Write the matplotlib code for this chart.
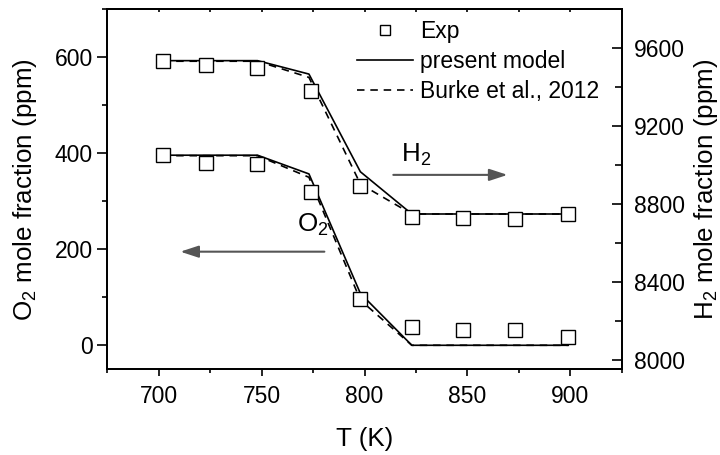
import matplotlib
matplotlib.use("Agg")
import matplotlib.pyplot as plt
from matplotlib.ticker import MultipleLocator

plt.rcParams['font.family'] = ['Liberation Sans', 'DejaVu Sans']
plt.rcParams['mathtext.default'] = 'regular'

# ---- data ----
T_exp = [702, 723, 748, 774, 798, 823, 848, 873, 899]
O2_exp = [396, 380, 377, 320, 97, 38, 31, 32, 17]
H2_exp = [9535, 9515, 9500, 9380, 8890, 8730, 8725, 8720, 8750]

T_model = [702, 723, 748, 773, 798, 823, 848, 873, 899]
O2_present = [396, 396, 396, 357, 108, 0, 0, 0, 0]
O2_burke = [395, 395, 395, 350, 94, 0, 0, 0, 0]
H2_present = [9536, 9536, 9536, 9467, 8965, 8748, 8748, 8748, 8748]
H2_burke = [9533, 9533, 9533, 9450, 8902, 8748, 8748, 8748, 8748]

labels = ['Exp', 'present model', 'Burke et al., 2012']

fig = plt.figure(figsize=(7.2, 4.55), dpi=100)
ax = fig.add_axes([0.149, 0.1884, 0.7145, 0.7912])
ax2 = ax.twinx()

fs_tick = 16.5
fs_lab = 18.7
lw = 1.2
dash = (0, (4.5, 3.5))

# O2 on left axis
ax.plot(T_model, O2_present, color='black', lw=lw, zorder=3)
ax.plot(T_model, O2_burke, color='black', lw=lw, ls=dash, zorder=3)
ax.plot(T_exp, O2_exp, ls='none', marker='s', ms=9.5, mfc='white', mec='black',
        mew=1.0, zorder=4)

# H2 on right axis
ax2.plot(T_exp, H2_exp, ls='none', marker='s', ms=9.5, mfc='white', mec='black',
         mew=1.0, zorder=4, label=labels[0])
ax2.plot(T_model, H2_present, color='black', lw=lw, zorder=3, label=labels[1])
ax2.plot(T_model, H2_burke, color='black', lw=lw, ls=dash, zorder=3, label=labels[2])

ax.set_xlim(675, 925)
ax.set_ylim(-50, 700)
ax2.set_ylim(7950, 9800)

ax.xaxis.set_major_locator(MultipleLocator(50))
ax.xaxis.set_minor_locator(MultipleLocator(25))
ax.yaxis.set_major_locator(MultipleLocator(200))
ax.yaxis.set_minor_locator(MultipleLocator(100))
ax2.yaxis.set_major_locator(MultipleLocator(400))
ax2.yaxis.set_minor_locator(MultipleLocator(200))

for a in (ax, ax2):
    for s in a.spines.values():
        s.set_linewidth(1.3)

ax.tick_params(axis='x', which='major', direction='out', length=5, width=1.2,
               labelsize=fs_tick, pad=6, top=False)
ax.tick_params(axis='x', which='minor', direction='out', length=3, width=1.2, top=False)
ax.tick_params(axis='y', which='major', direction='out', length=7, width=1.2,
               labelsize=fs_tick, pad=3.5, right=False)
ax.tick_params(axis='y', which='minor', direction='out', length=3.6, width=1.2, right=False)
ax2.tick_params(axis='y', which='major', direction='in', length=7.5, width=1.2,
                labelsize=fs_tick, pad=9)
ax2.tick_params(axis='y', which='minor', direction='in', length=5, width=1.2)

# top ticks (short, inward)
sec = ax.secondary_xaxis('top')
sec.xaxis.set_major_locator(MultipleLocator(25))
sec.tick_params(axis='x', which='major', direction='in', length=2.2, width=1.2,
                labeltop=False)
sec.spines['top'].set_linewidth(1.3)

ax.set_xlabel('T (K)', fontsize=fs_lab, labelpad=14)
ax.set_ylabel('O$_2$ mole fraction (ppm)', fontsize=fs_lab, labelpad=11)
ax2.set_ylabel('H$_2$ mole fraction (ppm)', fontsize=fs_lab, labelpad=5)

# annotations
arrow_col = '#555555'
h2_arrow = ((814, 355), (869.5, 355))
o2_arrow = ((780.5, 195), (710.5, 195))
for (x0, y0), (x1, y1) in (h2_arrow, o2_arrow):
    ax.annotate('', xy=(x1, y1), xytext=(x0, y0),
                arrowprops=dict(arrowstyle='-|>,head_length=0.55,head_width=0.18',
                                mutation_scale=20, color=arrow_col, lw=1.5,
                                shrinkA=0, shrinkB=0))
ax.text(817.5, 382, 'H$_2$', fontsize=fs_lab, ha='left', va='baseline')
ax.text(767, 236, 'O$_2$', fontsize=fs_lab, ha='left', va='baseline')

leg = ax2.legend(loc='upper left', bbox_to_anchor=(0.4854, 0.97), frameon=False,
                 fontsize=fs_tick, handlelength=2.45, handletextpad=0.3,
                 labelspacing=0.3, borderpad=0, borderaxespad=0, markerscale=0.8)

fig.savefig('out.png', dpi=100)
